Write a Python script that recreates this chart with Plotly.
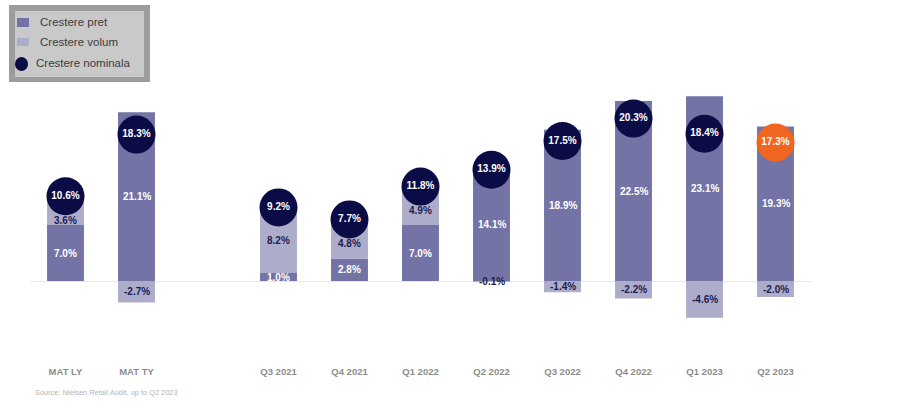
import plotly.graph_objects as go

categories = ["MAT LY", "MAT TY", "Q3 2021", "Q4 2021", "Q1 2022", "Q2 2022",
              "Q3 2022", "Q4 2022", "Q1 2023", "Q2 2023"]
slots = [0, 1, 3, 4, 5, 6, 7, 8, 9, 10]
price_growth = [7.0, 21.1, 1.0, 2.8, 7.0, 14.1, 18.9, 22.5, 23.1, 19.3]
volume_growth = [3.6, -2.7, 8.2, 4.8, 4.9, -0.1, -1.4, -2.2, -4.6, -2.0]
nominal_growth = [10.6, 18.3, 9.2, 7.7, 11.8, 13.9, 17.5, 20.3, 18.4, 17.3]
highlight = "Q2 2023"
series_names = ["Crestere pret", "Crestere volum", "Crestere nominala"]

PRICE_C = "#7374a5"
VOL_C = "#adadcb"
NAVY = "#0b0b45"
ORANGE = "#f0651f"
FONT = "Liberation Sans, Arial, sans-serif"

W, H = 912, 412
L, R, T, B = 30, 101, 41, 51
PW, PH = W - L - R, H - T - B


def px(xp):
    return (xp - L) / PW


def py(yp):
    return (H - B - yp) / PH


fig = go.Figure()
fig.add_trace(go.Bar(x=slots, y=price_growth, name=series_names[0], showlegend=False,
                     marker=dict(color=PRICE_C, line=dict(width=0)), width=0.52))
fig.add_trace(go.Bar(x=slots, y=volume_growth, name=series_names[1], showlegend=False,
                     marker=dict(color=VOL_C, line=dict(width=0)), width=0.52))
colors = [ORANGE if c == highlight else NAVY for c in categories]
fig.add_trace(go.Scatter(x=slots, y=nominal_growth, name=series_names[2], showlegend=False,
                         mode="markers+text",
                         marker=dict(size=38, color=colors),
                         text=[f"{v:.1f}%" for v in nominal_growth],
                         textposition="middle center",
                         textfont=dict(family=FONT, size=10, color="white", weight="bold")))

annotations = []
for x, p, v, n in zip(slots, price_growth, volume_growth, nominal_growth):
    annotations.append(dict(x=x, y=p / 2, text=f"{p:.1f}%", showarrow=False,
                            font=dict(family=FONT, size=10, color="white", weight="bold")))
    if v >= 0:
        base = max(p, 0)
        vy = min(base + v / 2, n - 3.0)
    else:
        base = min(p, 0)
        vy = base + v / 2
    annotations.append(dict(x=x, y=vy, text=f"{v:.1f}%", showarrow=False,
                            font=dict(family=FONT, size=10, color="#1c1c52", weight="bold")))

annotations.append(dict(xref="paper", yref="paper", x=px(33), y=py(392),
                        xanchor="left", yanchor="middle", showarrow=False,
                        text="Source: Nielsen Retail Audit, up to Q2 2023",
                        font=dict(family=FONT, size=7.4, color="#b4b4b4")))

# manual legend
shapes = [
    dict(type="rect", xref="paper", yref="paper", x0=px(9), x1=px(150), y0=py(82), y1=py(5),
         fillcolor="#9c9c9c", line=dict(width=0), layer="above"),
    dict(type="rect", xref="paper", yref="paper", x0=px(15), x1=px(144), y0=py(77), y1=py(11),
         fillcolor="#c9c9c9", line=dict(width=0), layer="above"),
    dict(type="rect", xref="paper", yref="paper", x0=px(17), x1=px(29), y0=py(27), y1=py(18),
         fillcolor=PRICE_C, line=dict(width=0), layer="above"),
    dict(type="rect", xref="paper", yref="paper", x0=px(17), x1=px(29), y0=py(46), y1=py(38),
         fillcolor=VOL_C, line=dict(width=0), layer="above"),
    dict(type="circle", xref="paper", yref="paper", x0=px(15), x1=px(28), y0=py(71), y1=py(57),
         fillcolor=NAVY, line=dict(width=0), layer="above"),
]
for name, tx, ty in zip(series_names, [38, 38, 34], [22, 42, 63]):
    annotations.append(dict(xref="paper", yref="paper", x=px(tx), y=py(ty),
                            xanchor="left", yanchor="middle", showarrow=False, text=name,
                            font=dict(family=FONT, size=11.5, color="#3c3c3c")))

fig.update_layout(
    width=W, height=H,
    margin=dict(l=L, r=R, t=T, b=B, autoexpand=False),
    barmode="relative",
    plot_bgcolor="white", paper_bgcolor="white",
    showlegend=False,
    xaxis=dict(range=[-0.5, 10.5], tickvals=slots, ticktext=categories,
               showgrid=False, zeroline=False, showline=False, ticks="",
               ticklabelstandoff=3,
               tickfont=dict(family=FONT, size=9.5, color="#8c8c8c", weight="bold")),
    yaxis=dict(range=[-10, 30], showgrid=False, zeroline=True, zerolinecolor="#e8e8e8",
               zerolinewidth=1, showticklabels=False, showline=False, ticks=""),
    annotations=annotations,
    shapes=shapes,
)

fig.write_html("out.html", config={"displayModeBar": False},
               post_script="document.body.style.margin='0';document.body.style.overflow='hidden';")
